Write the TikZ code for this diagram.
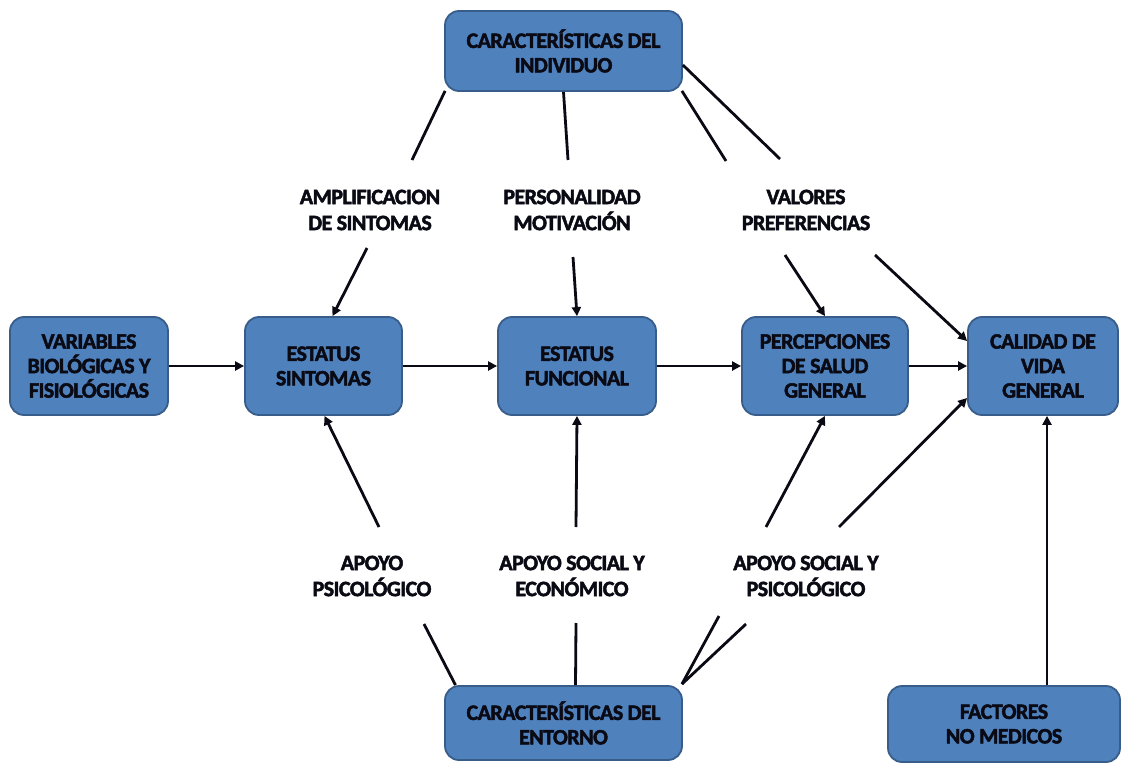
\documentclass[tikz,border=0pt]{standalone}
\usepackage{fontspec}
\setmainfont{Carlito}[BoldFeatures={FakeBold=2.2,LetterSpace=-2.5}]
\usetikzlibrary{arrows.meta}
\definecolor{boxfill}{HTML}{4F81BD}
\definecolor{boxedge}{HTML}{385D8A}
\definecolor{ink}{HTML}{0A0A14}
\begin{document}
\begin{tikzpicture}[x=1pt,y=-1pt,
  box/.style={draw=boxedge, line width=1.8pt, fill=boxfill, rounded corners=14pt,
    align=center, text=ink, inner sep=0pt,
    font=\bfseries\fontsize{22}{24.5}\selectfont},
  lbl/.style={align=center, text=ink, inner sep=0pt,
    font=\bfseries\fontsize{22}{26}\selectfont},
  link/.style={draw=ink, line width=2.8pt},
  arr/.style={link, -{Triangle[length=9pt,width=9pt]}}]
\useasboundingbox (0,0) rectangle (1122,765);

% boxes
\node[box, minimum width=237pt, minimum height=80pt] (ind) at (563.5,51) {CARACTERÍSTICAS DEL\\INDIVIDUO};
\node[box, minimum width=158pt, minimum height=98pt] (var) at (89,366) {VARIABLES\\BIOLÓGICAS Y\\FISIOLÓGICAS};
\node[box, minimum width=157pt, minimum height=98pt] (sint) at (323.5,366) {ESTATUS\\SINTOMAS};
\node[box, minimum width=158pt, minimum height=98pt] (func) at (577,366) {ESTATUS\\FUNCIONAL};
\node[box, minimum width=166pt, minimum height=98pt] (perc) at (825,366) {PERCEPCIONES\\DE SALUD\\GENERAL};
\node[box, minimum width=150pt, minimum height=98pt] (cal) at (1043,366) {CALIDAD DE\\VIDA\\GENERAL};
\node[box, minimum width=237pt, minimum height=74pt] (ent) at (563.5,723) {CARACTERÍSTICAS DEL\\ENTORNO};
\node[box, minimum width=232pt, minimum height=76pt] (fac) at (1004,724) {FACTORES\\NO MEDICOS};

% labels
\node[lbl] (amp) at (370,210) {AMPLIFICACION\\DE SINTOMAS};
\node[lbl] (pers) at (572,210) {PERSONALIDAD\\MOTIVACIÓN};
\node[lbl] (val) at (806,210) {VALORES\\PREFERENCIAS};
\node[lbl] (apo) at (372,576) {APOYO\\PSICOLÓGICO};
\node[lbl] (ase) at (572,576) {APOYO SOCIAL Y\\ECONÓMICO};
\node[lbl] (asp) at (806,576) {APOYO SOCIAL Y\\PSICOLÓGICO};

% free ends of the connectors near the labels
\coordinate (a1) at (412,160);
\coordinate (a2) at (568,160);
\coordinate (a3) at (726,161);
\coordinate (a4) at (780,159);
\coordinate (b1) at (367,248);
\coordinate (b2) at (573,257);
\coordinate (b3) at (785,255);
\coordinate (b4) at (875,255);
\coordinate (c1) at (379,527);
\coordinate (c2) at (576,527);
\coordinate (c3) at (766,527);
\coordinate (c4) at (839,527);
\coordinate (d1) at (424,624);
\coordinate (d2) at (576,623);
\coordinate (d3) at (719,616);
\coordinate (d4) at (746,624);

% individual characteristics
\draw[link] ([shift={(1,-1)}]ind.south west) -- (a1);
\draw[link] (ind.south) -- (a2);
\draw[link] ([shift={(-1,-1)}]ind.south east) -- (a3);
\draw[link] ([yshift=-14]ind.east) -- (a4);
\draw[arr] (b1) -- ([xshift=9]sint.north);
\draw[arr] (b2) -- (func.north);
\draw[arr] (b3) -- (perc.north);
\draw[arr] (b4) -- ([yshift=25]cal.west);

% main chain
\draw[arr] (var) -- (sint);
\draw[arr] (sint) -- (func);
\draw[arr] (func) -- (perc);
\draw[arr] (perc) -- (cal);

% environment characteristics
\draw[arr] (c1) -- ([xshift=1]sint.south);
\draw[arr] (c2) -- (func.south);
\draw[arr] (c3) -- (perc.south);
\draw[arr] (c4) -- ([yshift=-32]cal.west);
\draw[link] (d1) -- ([xshift=-108]ent.north);
\draw[link] (d2) -- ([xshift=12]ent.north);
\draw[link] (d3) -- ([shift={(-1,-1)}]ent.north east);
\draw[link] (d4) -- ([shift={(-1,-1)}]ent.north east);

% non-medical factors
\draw[arr] ([xshift=43]fac.north) -- ([xshift=4]cal.south);
\end{tikzpicture}
\end{document}
